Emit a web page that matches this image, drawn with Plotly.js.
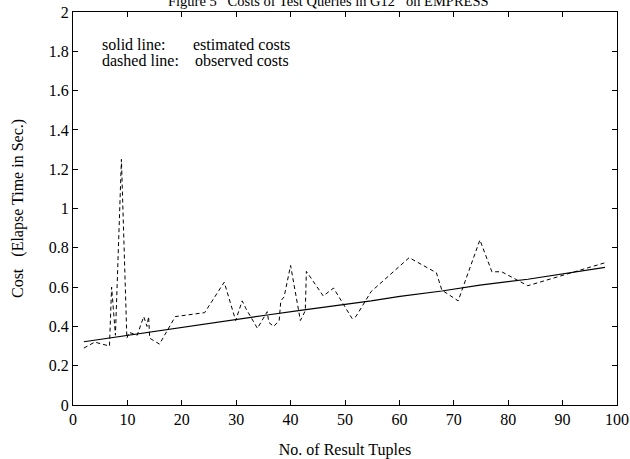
<!DOCTYPE html>
<html>
<head>
<meta charset="utf-8">
<script src="https://cdn.plot.ly/plotly-3.0.1.min.js"></script>
<style>html,body{margin:0;padding:0;background:#fff;}#chart{width:630px;height:459px;}</style>
</head>
<body>
<div id="chart"></div>
<script>
// Observed costs (dashed line)
const observedX = [2, 4, 6.7, 7.1, 7.8, 8.9, 9.9, 10.3, 11.8, 13, 13.6, 13.9, 14.1, 15.9, 18.8, 24.2, 27.8, 29.9, 31.1, 31.8, 33.9, 35.7, 36, 36.9, 37.9, 38.2, 38.8, 40, 41.8, 42.7, 42.9, 46, 47.9, 51.3, 52, 54.8, 61.8, 66.8, 67.8, 70.8, 74.8, 77, 78.8, 83.6, 97.8];
const observedY = [0.29, 0.32, 0.30, 0.60, 0.355, 1.25, 0.34, 0.37, 0.355, 0.45, 0.40, 0.45, 0.34, 0.31, 0.45, 0.47, 0.625, 0.43, 0.53, 0.49, 0.39, 0.475, 0.42, 0.40, 0.43, 0.53, 0.55, 0.71, 0.43, 0.48, 0.68, 0.555, 0.595, 0.44, 0.45, 0.577, 0.75, 0.673, 0.585, 0.53, 0.84, 0.678, 0.678, 0.607, 0.724];
// Estimated costs (solid line)
const estimatedX = [2, 10, 18.8, 25.3, 29.8, 35.7, 41.8, 50, 54.8, 60.1, 67.8, 74.8, 83.6, 97.8];
const estimatedY = [0.322, 0.355, 0.39, 0.416, 0.436, 0.458, 0.482, 0.511, 0.53, 0.553, 0.58, 0.61, 0.64, 0.70];

const xTicks = [0, 10, 20, 30, 40, 50, 60, 70, 80, 90, 100];
const yTicks = [0, 0.2, 0.4, 0.6, 0.8, 1, 1.2, 1.4, 1.6, 1.8, 2];
const yTickText = ['0', '0.2', '0.4', '0.6', '0.8', '1', '1.2', '1.4', '1.6', '1.8', '2'];

const serif = '"Liberation Serif", "Times New Roman", serif';

const traces = [
  {x: estimatedX, y: estimatedY, mode: 'lines', line: {color: '#000', width: 1.2}, hoverinfo: 'skip'},
  {x: observedX, y: observedY, mode: 'lines', line: {color: '#000', width: 1, dash: '4px,3px'}, hoverinfo: 'skip'}
];

const legendFont = {family: serif, size: 16};

const layout = {
  width: 630, height: 459,
  margin: {l: 72.5, r: 13, t: 12, b: 54},
  paper_bgcolor: '#fff', plot_bgcolor: '#fff',
  showlegend: false,
  font: {family: serif, size: 13, color: '#000'},
  xaxis: {
    range: [0, 100], tickvals: xTicks, ticks: 'inside', ticklen: 5, tickwidth: 1, tickcolor: '#000',
    showline: true, linecolor: '#000', linewidth: 1, mirror: 'ticks', showgrid: false, zeroline: false,
    tickfont: {family: serif, size: 16},
    title: {text: 'No. of Result Tuples', font: {family: serif, size: 16}, standoff: 20}
  },
  yaxis: {
    range: [0, 2], tickvals: yTicks, ticktext: yTickText, ticks: 'inside', ticklen: 5, tickwidth: 1, tickcolor: '#000',
    showline: true, linecolor: '#000', linewidth: 1, mirror: 'ticks', showgrid: false, zeroline: false,
    tickfont: {family: serif, size: 16},
    title: {text: 'Cost&nbsp;&nbsp;&nbsp;(Elapse Time in Sec.)', font: {family: serif, size: 16}, standoff: 21}
  },
  annotations: [
    {xref: 'paper', yref: 'paper', x: 0.47, y: 1, yanchor: 'bottom', yshift: 1, showarrow: false,
     text: 'Figure 5   Costs of Test Queries in G12   on EMPRESS', font: {family: serif, size: 14.5}},
    {xref: 'x', yref: 'y', x: 5, y: 1.835, xanchor: 'left', showarrow: false, height: 14, text: 'solid line:', font: legendFont},
    {xref: 'x', yref: 'y', x: 21.7, y: 1.835, xanchor: 'left', showarrow: false, height: 14, text: 'estimated costs', font: legendFont},
    {xref: 'x', yref: 'y', x: 5, y: 1.758, xanchor: 'left', showarrow: false, height: 14, text: 'dashed line:', font: legendFont},
    {xref: 'x', yref: 'y', x: 22.1, y: 1.758, xanchor: 'left', showarrow: false, height: 14, text: 'observed costs', font: legendFont}
  ]
};

Plotly.newPlot('chart', traces, layout, {staticPlot: true, displayModeBar: false});
</script>
</body>
</html>
